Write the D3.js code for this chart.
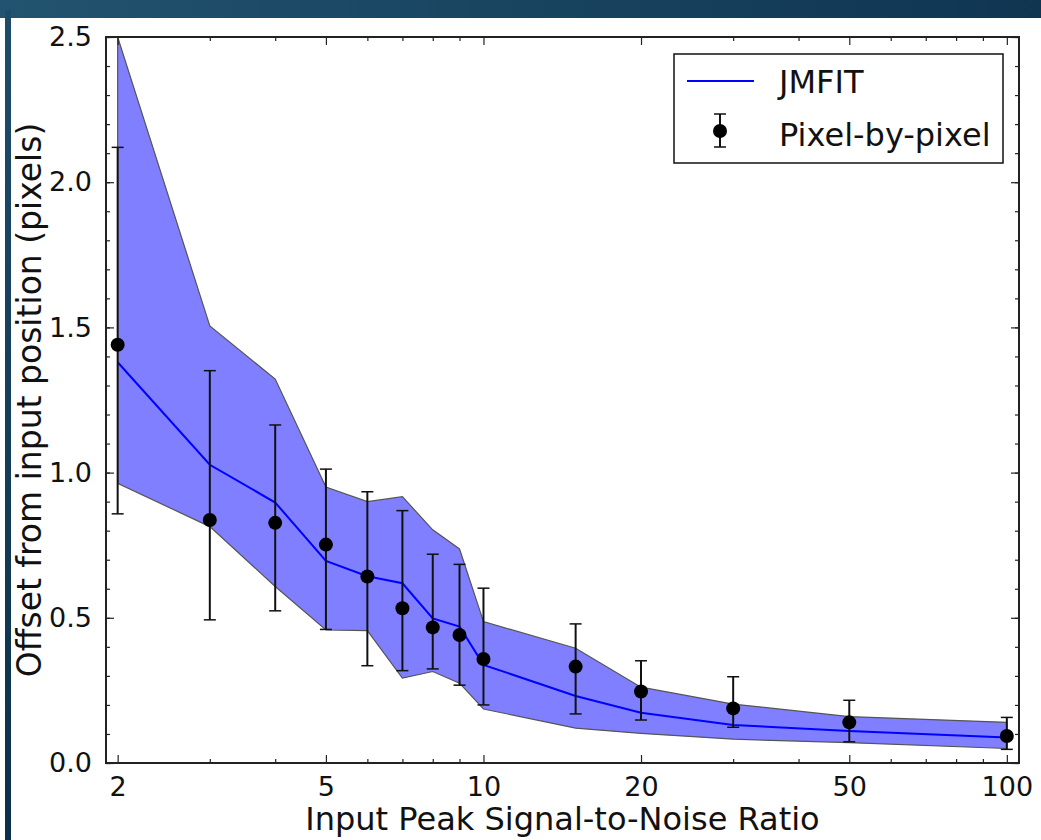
<!DOCTYPE html>
<html>
<head>
<meta charset="utf-8">
<script src="https://cdn.jsdelivr.net/npm/d3@7"></script>
<style>
  html, body { margin: 0; padding: 0; background: #ffffff; }
  svg text { font-family: "DejaVu Sans", sans-serif; fill: #111; }
</style>
</head>
<body>
<svg id="chart" width="1041" height="840"></svg>
<script>
// ---- data ----
const snr        = [2, 3, 4, 5, 6, 7, 8, 9, 10, 15, 20, 30, 50, 100];
const jmfit      = [1.38, 1.027, 0.897, 0.696, 0.643, 0.619, 0.498, 0.47, 0.338, 0.231, 0.173, 0.131, 0.11, 0.088];
const jmfitUpper = [2.50, 1.505, 1.322, 0.95, 0.90, 0.917, 0.803, 0.737, 0.487, 0.395, 0.261, 0.203, 0.16, 0.14];
const jmfitLower = [0.963, 0.814, 0.608, 0.458, 0.456, 0.292, 0.315, 0.275, 0.186, 0.12, 0.102, 0.082, 0.07, 0.05];
const pixel      = [1.44, 0.837, 0.827, 0.752, 0.642, 0.533, 0.467, 0.441, 0.358, 0.332, 0.246, 0.188, 0.14, 0.093];
const pixelHigh  = [2.12, 1.351, 1.164, 1.012, 0.934, 0.869, 0.719, 0.684, 0.602, 0.479, 0.352, 0.297, 0.216, 0.157];
const pixelLow   = [0.858, 0.493, 0.524, 0.46, 0.335, 0.318, 0.324, 0.268, 0.2, 0.169, 0.148, 0.123, 0.073, 0.047];
const xMajorTicks = [2, 5, 10, 20, 50, 100];
const xMinorTicks = [3, 4, 6, 7, 8, 9, 30, 40, 60, 70, 80, 90];
const yMajorTicks = [0.0, 0.5, 1.0, 1.5, 2.0, 2.5];
const yMinorTicks = d3.range(0, 26).map(i => i / 10);
const xLabel = "Input Peak Signal-to-Noise Ratio";
const yLabel = "Offset from input position (pixels)";
const legendLabels = ["JMFIT", "Pixel-by-pixel"];

// ---- layout ----
const svg = d3.select("#chart");
const L = 106, R = 1019, T = 37, B = 763;
const x = d3.scaleLog().domain([1.9, 105.5]).range([L, R]);
const y = d3.scaleLinear().domain([0, 2.5]).range([B, T]);

// background decoration (dark blue slide frame)
const defs = svg.append("defs");
const gTop = defs.append("linearGradient").attr("id", "gTop").attr("x1", 0).attr("x2", 1).attr("y1", 0).attr("y2", 0);
gTop.append("stop").attr("offset", 0).attr("stop-color", "#22536f");
gTop.append("stop").attr("offset", 1).attr("stop-color", "#0f3551");
const gLeft = defs.append("linearGradient").attr("id", "gLeft").attr("x1", 0).attr("x2", 0).attr("y1", 0).attr("y2", 1);
gLeft.append("stop").attr("offset", 0).attr("stop-color", "#1d4c6b");
gLeft.append("stop").attr("offset", 1).attr("stop-color", "#0b3049");
svg.append("rect").attr("x", 0).attr("y", 0).attr("width", 1041).attr("height", 18).attr("fill", "url(#gTop)");
svg.append("rect").attr("x", 5).attr("y", 10).attr("width", 6).attr("height", 830).attr("fill", "url(#gLeft)");

defs.append("clipPath").attr("id", "plotClip")
  .append("rect").attr("x", L).attr("y", T).attr("width", R - L).attr("height", B - T);

const plot = svg.append("g").attr("clip-path", "url(#plotClip)");

// JMFIT band
const band = d3.area()
  .x((d, i) => x(snr[i]))
  .y0((d, i) => y(jmfitLower[i]))
  .y1((d, i) => y(jmfitUpper[i]));
plot.append("path").datum(snr).attr("d", band)
  .attr("fill", "#7f7fff").attr("stroke", "#555").attr("stroke-width", 1.2);

// JMFIT line
const line = d3.line().x((d, i) => x(snr[i])).y((d, i) => y(jmfit[i]));
plot.append("path").datum(snr).attr("d", line)
  .attr("fill", "none").attr("stroke", "#0000ff").attr("stroke-width", 2);

// error bars
const eb = plot.append("g").attr("stroke", "#111").attr("stroke-width", 2);
snr.forEach((s, i) => {
  const cx = x(s);
  eb.append("line").attr("x1", cx).attr("x2", cx).attr("y1", y(pixelLow[i])).attr("y2", y(pixelHigh[i]));
  eb.append("line").attr("x1", cx - 6).attr("x2", cx + 6).attr("y1", y(pixelLow[i])).attr("y2", y(pixelLow[i])).attr("stroke-width", 1.5);
  eb.append("line").attr("x1", cx - 6).attr("x2", cx + 6).attr("y1", y(pixelHigh[i])).attr("y2", y(pixelHigh[i])).attr("stroke-width", 1.5);
});
plot.append("g").selectAll("circle").data(snr).join("circle")
  .attr("cx", d => x(d)).attr("cy", (d, i) => y(pixel[i])).attr("r", 7).attr("fill", "#000");

// axes with inward ticks on all sides
const axisColor = "#222";
function styleAxis(g) {
  g.select(".domain").remove();
  g.selectAll(".tick line").attr("stroke", axisColor).attr("stroke-width", 1.2);
  g.selectAll(".tick text").attr("font-size", 27).attr("fill", "#111").attr("font-family", "DejaVu Sans");
}
// bottom
svg.append("g").attr("transform", `translate(0,${B})`)
  .call(d3.axisBottom(x).tickValues(xMajorTicks).tickSize(-8).tickPadding(14).tickFormat(d3.format("d")))
  .call(styleAxis).call(g => g.selectAll(".tick text").attr("dy", "0.71em"));
svg.append("g").attr("transform", `translate(0,${B})`)
  .call(d3.axisBottom(x).tickValues(xMinorTicks).tickSize(-4).tickFormat(""))
  .call(styleAxis);
// top
svg.append("g").attr("transform", `translate(0,${T})`)
  .call(d3.axisTop(x).tickValues(xMajorTicks).tickSize(-8).tickFormat(""))
  .call(styleAxis);
svg.append("g").attr("transform", `translate(0,${T})`)
  .call(d3.axisTop(x).tickValues(xMinorTicks).tickSize(-4).tickFormat(""))
  .call(styleAxis);
// left
svg.append("g").attr("transform", `translate(${L},0)`)
  .call(d3.axisLeft(y).tickValues(yMajorTicks).tickSize(-8).tickPadding(14).tickFormat(d3.format(".1f")))
  .call(styleAxis);
svg.append("g").attr("transform", `translate(${L},0)`)
  .call(d3.axisLeft(y).tickValues(yMinorTicks).tickSize(-4).tickFormat(""))
  .call(styleAxis);
// right
svg.append("g").attr("transform", `translate(${R},0)`)
  .call(d3.axisRight(y).tickValues(yMajorTicks).tickSize(-8).tickFormat(""))
  .call(styleAxis);
svg.append("g").attr("transform", `translate(${R},0)`)
  .call(d3.axisRight(y).tickValues(yMinorTicks).tickSize(-4).tickFormat(""))
  .call(styleAxis);

// frame
svg.append("rect").attr("x", L).attr("y", T).attr("width", R - L).attr("height", B - T)
  .attr("fill", "none").attr("stroke", axisColor).attr("stroke-width", 2);

// axis labels
svg.append("text").attr("x", (L + R) / 2).attr("y", 830).attr("text-anchor", "middle")
  .attr("font-size", 32).text(xLabel);
svg.append("text").attr("transform", `translate(41,${(T + B) / 2}) rotate(-90)`).attr("text-anchor", "middle")
  .attr("font-size", 33).text(yLabel);

// legend
const lg = svg.append("g");
lg.append("rect").attr("x", 674).attr("y", 54).attr("width", 329).attr("height", 109)
  .attr("fill", "#fff").attr("stroke", "#111").attr("stroke-width", 1.5);
lg.append("line").attr("x1", 687).attr("x2", 754).attr("y1", 81).attr("y2", 81)
  .attr("stroke", "#0000ff").attr("stroke-width", 2);
lg.append("line").attr("x1", 720).attr("x2", 720).attr("y1", 114).attr("y2", 147).attr("stroke", "#111").attr("stroke-width", 2);
lg.append("line").attr("x1", 714).attr("x2", 726).attr("y1", 114).attr("y2", 114).attr("stroke", "#111").attr("stroke-width", 1.5);
lg.append("line").attr("x1", 714).attr("x2", 726).attr("y1", 147).attr("y2", 147).attr("stroke", "#111").attr("stroke-width", 1.5);
lg.append("circle").attr("cx", 720).attr("cy", 131).attr("r", 7).attr("fill", "#000");
lg.append("text").attr("x", 779).attr("y", 93).attr("font-size", 32).text(legendLabels[0]);
lg.append("text").attr("x", 779).attr("y", 146).attr("font-size", 32).text(legendLabels[1]);
</script>
</body>
</html>
